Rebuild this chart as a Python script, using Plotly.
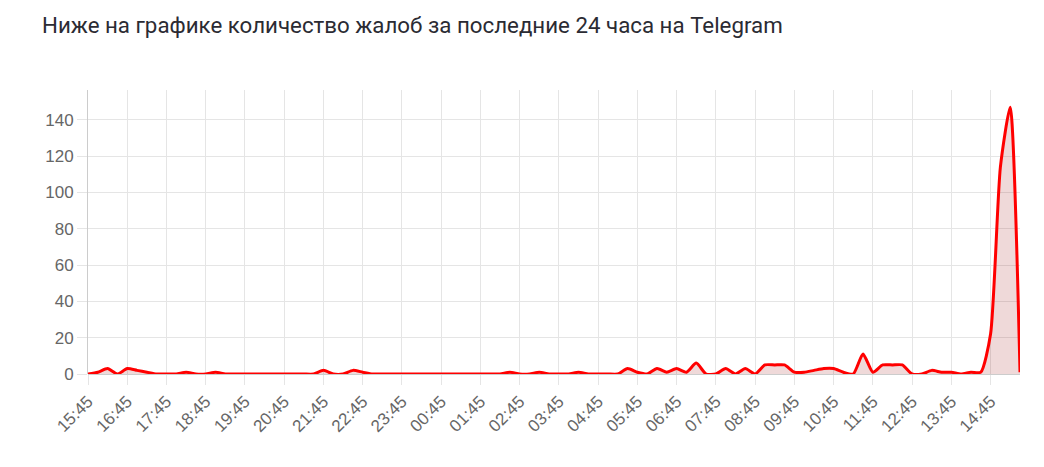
import plotly.graph_objects as go

# жалобы каждые 15 минут, начиная с 15:45
start_h, start_m = 15, 45
times = []
for k in range(96):
    total = start_h * 60 + start_m + 15 * k
    times.append("%02d:%02d" % ((total // 60) % 24, total % 60))

complaints = [
    0, 1, 3, 0, 3, 2, 1, 0, 0, 0, 1, 0,
    0, 1, 0, 0, 0, 0, 0, 0, 0, 0, 0, 0,
    2, 0, 0, 2, 1, 0, 0, 0, 0, 0, 0, 0,
    0, 0, 0, 0, 0, 0, 0, 1, 0, 0, 1, 0,
    0, 0, 1, 0, 0, 0, 0, 3, 1, 0, 3, 1,
    3, 1, 6, 0, 0, 3, 0, 3, 0, 5, 5, 5,
    1, 1, 2, 3, 3, 1, 0, 11, 1, 5, 5, 5,
    0, 0, 2, 1, 1, 0, 1, 1, 22, 114, 147, 1,
]

tick_labels = times[::4]

title_text = "Ниже на графике количество жалоб за последние 24 часа на Telegram"

fig = go.Figure()
fig.add_trace(go.Scatter(
    x=times, y=complaints,
    mode="lines",
    line=dict(color="#ff0000", width=3, shape="spline", smoothing=0.6),
    fill="tozeroy",
    fillcolor="rgba(150, 0, 0, 0.15)",
    showlegend=False,
))

tick_font = dict(family="Liberation Sans, Arial, sans-serif", size=17, color="#666666")

fig.update_layout(
    width=1044, height=467,
    margin=dict(l=88, r=24, t=90, b=93),
    paper_bgcolor="white", plot_bgcolor="white",
    title=dict(
        text=title_text,
        font=dict(family="Roboto, sans-serif", size=22.3, color="#2b2b33"),
        xref="container", yref="container",
        x=42 / 1044, xanchor="left",
        y=1 - 25 / 467, yanchor="middle",
    ),
)

fig.update_xaxes(
    type="category",
    range=[0, 95],
    tickmode="array", tickvals=tick_labels, ticktext=tick_labels,
    tickangle=-45,
    tickfont=tick_font,
    ticks="outside", ticklen=10, tickcolor="#e5e5e5",
    showgrid=True, gridcolor="#e5e5e5", gridwidth=1,
    showline=False, zeroline=False, automargin=False,
)

fig.update_yaxes(
    range=[0, 156.5],
    tick0=0, dtick=20,
    tickfont=tick_font,
    ticks="outside", ticklen=10, tickcolor="#e5e5e5",
    showgrid=True, gridcolor="#e5e5e5", gridwidth=1,
    zeroline=True, zerolinecolor="#cccccc", zerolinewidth=1,
    showline=True, linecolor="#cccccc", linewidth=1, automargin=False,
)

# страница без отступа у body, чтобы график стоял с левого верхнего угла
fig.write_html("out.html", config={"displayModeBar": False},
               post_script="document.body.style.margin = '0';")
